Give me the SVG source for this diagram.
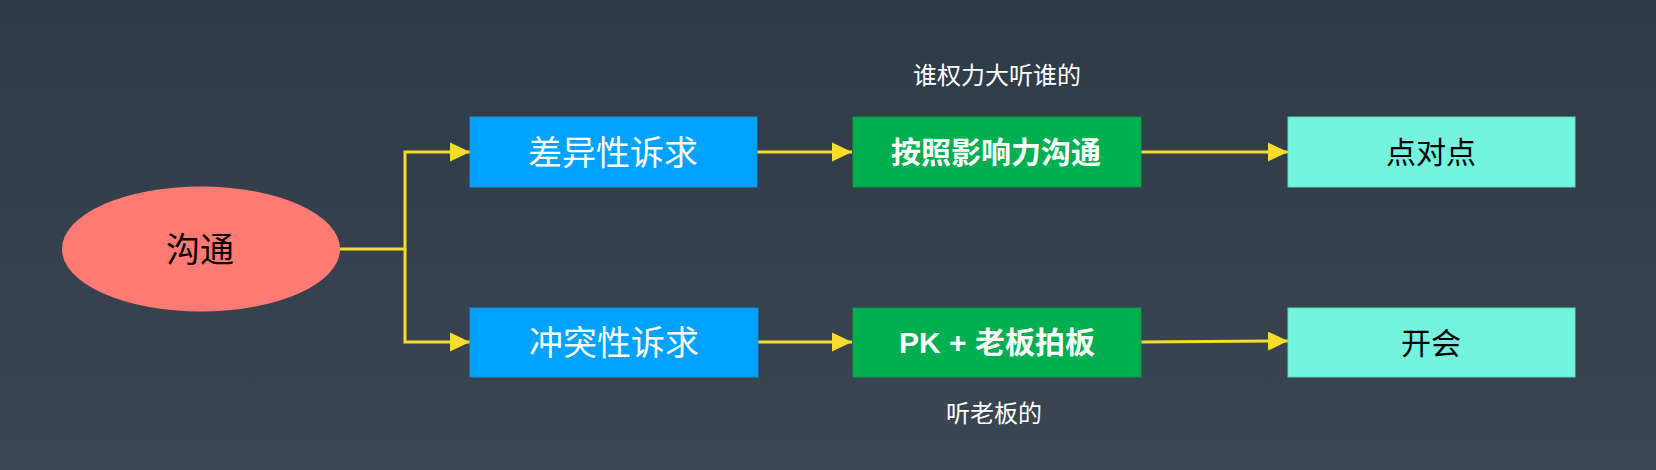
<svg xmlns="http://www.w3.org/2000/svg" width="1656" height="470" viewBox="0 0 1656 470">
<style>
.t{font-family:"Noto Sans CJK SC","Liberation Sans",sans-serif;text-anchor:middle}
.w{fill:#ffffff}
.k{fill:#000000}
.conn{stroke:#F7DC2B;stroke-width:3;fill:none}
.blue{fill:#00A2FF;stroke:#1B8FD6;stroke-width:1}
.green{fill:#00AF50;stroke:#0E9A4A;stroke-width:1}
.teal{fill:#73F3E0;stroke:#5FD6C6;stroke-width:1}
</style>
<defs>
<linearGradient id="bg" x1="0" y1="0" x2="0" y2="1">
<stop offset="0" stop-color="#2F3A47"/>
<stop offset="1" stop-color="#3B4653"/>
</linearGradient>
<marker id="ah" markerUnits="userSpaceOnUse" markerWidth="20" markerHeight="20" viewBox="0 0 19 18" refX="19" refY="9" orient="auto">
<path d="M0,0 L19,9 L0,18 Z" fill="#F7DC2B"/>
</marker>
</defs>
<rect x="0" y="0" width="1656" height="470" fill="url(#bg)"/>
<g id="connectors">
<path class="conn" d="M340,249 H405 V152 H470" marker-end="url(#ah)"/>
<path class="conn" d="M405,249 V342 H470" marker-end="url(#ah)"/>
<path class="conn" d="M757,152 H852" marker-end="url(#ah)"/>
<path class="conn" d="M758,342 H852" marker-end="url(#ah)"/>
<path class="conn" d="M1141,152 H1288" marker-end="url(#ah)"/>
<path class="conn" d="M1141,342 L1288,341" marker-end="url(#ah)"/>
</g>
<g id="node-goutong">
<ellipse cx="201" cy="249" rx="139" ry="62.5" fill="#FF7A72"/>
<text class="t k" x="200" y="262" font-size="34">沟通</text>
</g>
<g id="node-chayi">
<rect class="blue" x="470" y="117" width="287" height="70"/>
<text class="t w" x="613" y="165" font-size="34">差异性诉求</text>
</g>
<g id="node-chongtu">
<rect class="blue" x="470" y="308" width="288" height="69"/>
<text class="t w" x="614" y="355" font-size="34">冲突性诉求</text>
</g>
<g id="node-anzhao">
<rect class="green" x="853" y="117" width="288" height="70"/>
<text class="t w" x="996" y="163" font-size="30" font-weight="bold">按照影响力沟通</text>
</g>
<g id="node-pk">
<rect class="green" x="853" y="308" width="288" height="69"/>
<text class="t w" x="997" y="353" font-size="30" font-weight="bold"><tspan font-family="Liberation Sans, sans-serif">PK + </tspan>老板拍板</text>
</g>
<g id="node-dianduidian">
<rect class="teal" x="1288" y="117" width="287" height="70"/>
<text class="t k" x="1431" y="163" font-size="30">点对点</text>
</g>
<g id="node-kaihui">
<rect class="teal" x="1288" y="308" width="287" height="69"/>
<text class="t k" x="1431" y="354" font-size="30">开会</text>
</g>
<g id="labels">
<text class="t w" x="997" y="84" font-size="24">谁权力大听谁的</text>
<text class="t w" x="994" y="422" font-size="24">听老板的</text>
</g>
</svg>
